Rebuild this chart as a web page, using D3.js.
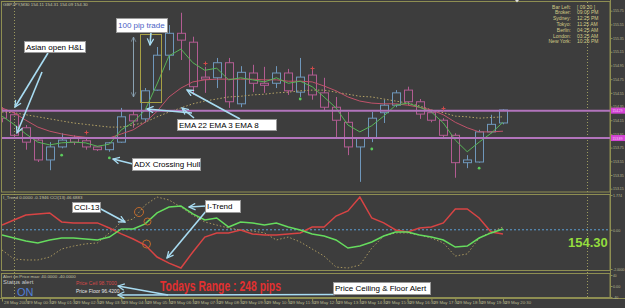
<!DOCTYPE html>
<html>
<head>
<meta charset="utf-8">
<script src="https://cdn.jsdelivr.net/npm/d3@7"></script>
<style>
  body { margin: 0; background: #3d3d3d; }
  svg { display: block; }
  text { font-family: "Liberation Sans", Arial, sans-serif; }
</style>
</head>
<body>
<svg id="chart" width="625" height="308"></svg>
<script>
// GBPJPY M30, 28 May 23:30 .. 29 May 20:30
var barOpen = [154.30, 154.23, 154.04, 153.86, 153.57, 153.76, 153.89, 153.85, 153.76, 153.72,
  153.83, 154.23, 154.17, 154.59, 155.10, 155.42, 155.29, 154.78, 154.77, 154.99,
  154.39, 154.84, 154.69, 154.69, 154.84, 154.56, 154.81, 154.55, 154.34, 154.12,
  153.76, 153.89, 154.26, 154.37, 154.59, 154.42, 154.26, 154.15, 153.93, 153.53,
  153.54, 153.98, 154.11];
var barHigh = [154.34, 154.27, 154.08, 153.89, 153.83, 153.96, 153.93, 153.88, 153.77, 153.83,
  154.33, 154.30, 154.62, 155.22, 155.54, 155.72, 155.37, 154.93, 155.06, 155.06,
  154.94, 154.96, 154.93, 154.94, 154.90, 155.06, 154.91, 154.77, 154.49, 154.27,
  153.90, 154.27, 154.45, 154.59, 154.64, 154.46, 154.30, 154.18, 153.96, 153.64,
  154.01, 154.23, 154.31];
var barLow = [154.12, 153.90, 153.72, 153.54, 153.42, 153.74, 153.79, 153.72, 153.70, 153.69,
  153.82, 154.04, 154.12, 154.58, 154.88, 155.03, 154.52, 154.55, 154.62, 154.33,
  154.34, 154.56, 154.55, 154.62, 154.52, 154.49, 154.45, 154.30, 153.89, 153.64,
  153.25, 153.83, 154.11, 154.34, 154.37, 154.17, 154.12, 153.90, 153.31, 153.45,
  153.53, 153.96, 154.09];
var barClose = [154.18, 153.93, 153.83, 153.57, 153.76, 153.86, 153.83, 153.76, 153.72, 153.82,
  154.20, 154.14, 154.58, 155.10, 155.42, 155.32, 154.64, 154.75, 154.99, 154.42,
  154.85, 154.69, 154.66, 154.84, 154.58, 154.78, 154.52, 154.34, 154.15, 153.76,
  153.89, 154.18, 154.37, 154.55, 154.42, 154.24, 154.15, 153.93, 153.53, 153.57,
  153.98, 154.09, 154.30];

var ema3 = [154.21, 154.09, 153.95, 153.83, 153.79, 153.82, 153.83, 153.82, 153.77, 153.80,
  154.01, 154.12, 154.30, 154.68, 155.09, 155.19, 154.99, 154.88, 154.91, 154.74,
  154.77, 154.74, 154.71, 154.77, 154.69, 154.72, 154.64, 154.49, 154.33, 154.08,
  153.98, 154.07, 154.21, 154.37, 154.40, 154.34, 154.27, 154.11, 153.86, 153.69,
  153.83, 153.96, 154.12];
var ema8 = [154.33, 154.26, 154.15, 154.05, 153.99, 153.95, 153.92, 153.90, 153.89, 153.89,
  153.95, 154.01, 154.12, 154.28, 154.49, 154.62, 154.71, 154.74, 154.75, 154.75,
  154.75, 154.75, 154.74, 154.74, 154.72, 154.72, 154.71, 154.65, 154.58, 154.49,
  154.43, 154.40, 154.39, 154.39, 154.37, 154.34, 154.30, 154.23, 154.12, 154.04,
  153.98, 153.98, 153.99];
var ema22 = [154.27, 154.26, 154.23, 154.20, 154.17, 154.14, 154.11, 154.09, 154.07, 154.05,
  154.05, 154.08, 154.12, 154.20, 154.27, 154.33, 154.39, 154.43, 154.46, 154.49,
  154.50, 154.52, 154.53, 154.55, 154.56, 154.58, 154.59, 154.59, 154.56, 154.53,
  154.50, 154.49, 154.46, 154.43, 154.40, 154.36, 154.30, 154.26, 154.21, 154.20,
  154.18, 154.19, 154.20];

var asianLevels = [154.29, 153.89];
var adxDots = [[5, 153.64], [9, 153.60], [25, 154.46], [31, 153.73], [40, 153.45]];
var hullCrosses = [[7, 153.98], [17, 154.99], [26, 154.91], [37, 154.33]];

var iTrendRed = [0.24, 0.50, 0.75, 0.81, 0.86, 0.40, 0.35, 0.35, 0.35, 0.09,
  -0.21, -0.47, -0.78, -1.39, -1.70, -1.95, -1.13, -0.37, -0.16, -0.16,
  -0.01, -0.21, -0.27, -0.27, -0.21, -0.16, 0.14, 0.14, 0.70, 0.96,
  1.67, 0.60, 0.35, -0.01, -0.11, 0.09, 0.14, 0.35, 1.06, 1.06,
  0.60, -0.11, -0.21];
var iTrendGreen = [-0.27, -0.42, -0.57, -0.67, -0.52, -0.42, -0.42, -0.47, -0.52, -0.37,
  0.04, 0.04, 0.30, 0.86, 1.16, 1.21, 0.81, 0.50, 0.60, 0.14,
  0.40, 0.35, 0.24, 0.35, 0.14, -0.01, -0.21, -0.32, -0.52, -0.93,
  -0.83, -0.62, -0.32, -0.11, -0.11, -0.27, -0.37, -0.52, -0.88, -0.83,
  -0.42, -0.16, 0.04];
var cci13 = [-1.03, -1.49, -1.54, -1.54, -1.39, -0.98, -0.83, -0.72, -0.67, -0.16,
  0.40, 0.55, 1.26, 1.67, 1.52, 1.16, 0.75, 0.40, 0.24, 0.09,
  -0.01, -0.06, -0.16, -0.52, -0.37, -0.62, -0.98, -1.34, -1.90, -1.95,
  -1.80, -0.93, -0.32, -0.16, -0.16, -0.27, -0.42, -0.67, -1.34, -1.23,
  -0.42, -0.11, 0.14];

var priceTicks = [155.75, 155.55, 155.35, 155.15, 154.95, 154.75, 154.55, 154.35,
  154.15, 153.95, 153.75, 153.55, 153.35, 153.15];
var indTicks = [1.774, 0, -2];
var indTickLabels = ['1.774', '0.00', '-2.0000'];
var alertTicks = [40, 0, -40];
var alertTickLabels = ['40', '0.00', '-40'];
var timeLabels = ['28 May 2009', '29 May 00:30', '29 May 01:30', '29 May 02:30', '29 May 03:30',
  '29 May 04:30', '29 May 05:30', '29 May 06:30', '29 May 07:30', '29 May 08:30', '29 May 09:30',
  '29 May 10:30', '29 May 11:30', '29 May 12:30', '29 May 13:30', '29 May 14:30', '29 May 15:30',
  '29 May 16:30', '29 May 17:30', '29 May 18:30', '29 May 19:30', '29 May 20:30'];
var clockNames = ['Bar Left:', 'Broker:', 'Sydney:', 'Tokyo:', 'Berlin:', 'London:', 'New York:'];
var clockTimes = ['[ 09:30 ]', '09:00 PM', '12:25 PM', '11:25 AM', '04:25 AM', '03:25 AM', '10:25 PM'];

var olive = '#8e8e52';
var axisText = '#b8b890';
var bull = '#6f97bb';
var bear = '#b25c92';

var svg = d3.select('#chart');
var x = d3.scaleLinear().domain([0, 42]).range([2, 503]);
var yPrice = d3.scaleLinear().domain([153.15, 155.75]).range([188.7, 10.7]);
var yInd = d3.scaleLinear().domain([-2, 1.774]).range([269, 195]);
var yAlert = d3.scaleLinear().domain([-40, 40]).range([297, 275]);

function px(v) { return Math.round(v) + 0.5; }

svg.append('rect').attr('width', 625).attr('height', 308).attr('fill', '#3d3d3d');

var defs = svg.append('defs');
defs.append('clipPath').attr('id', 'mainClip').append('rect')
  .attr('x', 2).attr('y', 2).attr('width', 608).attr('height', 189);
defs.append('clipPath').attr('id', 'indClip').append('rect')
  .attr('x', 2).attr('y', 195).attr('width', 608).attr('height', 75);
defs.append('marker').attr('id', 'head').attr('viewBox', '0 0 10 10')
  .attr('refX', 9).attr('refY', 5).attr('markerWidth', 5).attr('markerHeight', 5)
  .attr('orient', 'auto-start-reverse')
  .append('path').attr('d', 'M1,1L9,5L1,9').attr('fill', 'none')
  .attr('stroke', '#a8dcf2').attr('stroke-width', 1.6);
defs.append('marker').attr('id', 'headGrey').attr('viewBox', '0 0 10 10')
  .attr('refX', 9).attr('refY', 5).attr('markerWidth', 6).attr('markerHeight', 6)
  .attr('orient', 'auto-start-reverse')
  .append('path').attr('d', 'M1,1L9,5L1,9').attr('fill', 'none')
  .attr('stroke', '#8aa2b2').attr('stroke-width', 1.2);

// panel frames
[[1.5, 1.5, 608.5, 190.5], [1.5, 194.5, 608.5, 76], [1.5, 273.5, 608.5, 24]].forEach(function (r) {
  svg.append('rect').attr('x', r[0]).attr('y', r[1]).attr('width', r[2]).attr('height', r[3])
    .attr('fill', 'none').attr('stroke', olive);
});
svg.append('line').attr('x1', 0).attr('x2', 625).attr('y1', 298.5).attr('y2', 298.5).attr('stroke', olive);

// period separators
[1, 49].forEach(function (i) {
  svg.append('line').attr('x1', px(x(i))).attr('x2', px(x(i))).attr('y1', 2).attr('y2', 298)
    .attr('stroke', '#9c9a5e').attr('stroke-dasharray', '1,2');
});

// ---- main price panel
var main = svg.append('g').attr('clip-path', 'url(#mainClip)');

var bars = d3.range(barOpen.length).map(function (i) {
  return { i: i, o: barOpen[i], h: barHigh[i], l: barLow[i], c: barClose[i] };
});

var candle = main.selectAll('.candle').data(bars).enter().append('g')
  .attr('class', 'candle')
  .attr('stroke', function (d) { return d.c >= d.o ? bull : bear; })
  .attr('fill', 'none');
candle.append('line')
  .attr('x1', function (d) { return px(x(d.i)); })
  .attr('x2', function (d) { return px(x(d.i)); })
  .attr('y1', function (d) { return yPrice(d.h); })
  .attr('y2', function (d) { return yPrice(Math.max(d.o, d.c)); });
candle.append('line')
  .attr('x1', function (d) { return px(x(d.i)); })
  .attr('x2', function (d) { return px(x(d.i)); })
  .attr('y1', function (d) { return yPrice(Math.min(d.o, d.c)); })
  .attr('y2', function (d) { return yPrice(d.l); });
candle.append('rect')
  .attr('x', function (d) { return px(x(d.i)) - 4; })
  .attr('width', 8)
  .attr('y', function (d) { return yPrice(Math.max(d.o, d.c)); })
  .attr('height', function (d) { return Math.max(1, yPrice(Math.min(d.o, d.c)) - yPrice(Math.max(d.o, d.c))); });

var priceLine = d3.line()
  .x(function (d, i) { return x(i); })
  .y(function (d) { return yPrice(d); });
main.append('path').datum(ema22).attr('d', priceLine).attr('fill', 'none')
  .attr('stroke', '#b6a466').attr('stroke-dasharray', '1.5,2');
main.append('path').datum(ema8).attr('d', priceLine).attr('fill', 'none')
  .attr('stroke', '#c0526a');
main.append('path').datum(ema3).attr('d', priceLine).attr('fill', 'none')
  .attr('stroke', '#58b458');

main.selectAll('.level').data(asianLevels).enter().append('line')
  .attr('x1', 2).attr('x2', 610)
  .attr('y1', function (d) { return yPrice(d); })
  .attr('y2', function (d) { return yPrice(d); })
  .attr('stroke', '#b274bc').attr('stroke-width', 2);

main.selectAll('.adx').data(adxDots).enter().append('circle')
  .attr('cx', function (d) { return x(d[0]); })
  .attr('cy', function (d) { return yPrice(d[1]); })
  .attr('r', 1.4).attr('fill', '#5ccc5c');

main.selectAll('.hull').data(hullCrosses).enter().append('path')
  .attr('d', function (d) {
    var cx = px(x(d[0])), cy = Math.round(yPrice(d[1])) + 0.5;
    return 'M' + (cx - 2) + ',' + cy + 'H' + (cx + 2) + 'M' + cx + ',' + (cy - 2) + 'V' + (cy + 2);
  })
  .attr('stroke', '#d04a4a');

// price axis
var pAxis = svg.append('g').attr('transform', 'translate(610.5,0)')
  .call(d3.axisRight(yPrice).tickValues(priceTicks).tickSize(2).tickFormat(d3.format('.2f')));
svg.append('line').attr('x1', 610.5).attr('x2', 610.5).attr('y1', 0).attr('y2', 298).attr('stroke', olive);

svg.selectAll('.lvlTag').data(asianLevels).enter().append('rect')
  .attr('x', 611).attr('width', 14)
  .attr('y', function (d) { return yPrice(d) - 3; }).attr('height', 6)
  .attr('fill', '#d444d4');
svg.selectAll('.lvlText').data(asianLevels).enter().append('text')
  .attr('x', 612.5).attr('y', function (d) { return yPrice(d) + 1.5; })
  .attr('font-size', 4).attr('fill', '#f4d0f4')
  .attr('textLength', 10).attr('lengthAdjust', 'spacingAndGlyphs')
  .text(function (d) { return d.toFixed(2); });

// ---- indicator panel (I-Trend, CCI)
var ind = svg.append('g').attr('clip-path', 'url(#indClip)');
ind.append('line').attr('x1', 2).attr('x2', 610)
  .attr('y1', yInd(0)).attr('y2', yInd(0))
  .attr('stroke', '#5d9fd6').attr('stroke-dasharray', '2,2');

var indLine = d3.line()
  .x(function (d, i) { return x(i); })
  .y(function (d) { return yInd(d); });
ind.append('path').datum(cci13).attr('d', indLine).attr('fill', 'none')
  .attr('stroke', '#a8965e').attr('stroke-dasharray', '1.5,2');
ind.append('path').datum(iTrendRed).attr('d', indLine).attr('fill', 'none')
  .attr('stroke', '#d84444').attr('stroke-width', 1.5);
ind.append('path').datum(iTrendGreen).attr('d', indLine).attr('fill', 'none')
  .attr('stroke', '#66dc5e').attr('stroke-width', 1.5);

var iAxis = svg.append('g').attr('transform', 'translate(610.5,0)')
  .call(d3.axisRight(yInd).tickValues(indTicks).tickSize(2)
    .tickFormat(function (d, k) { return indTickLabels[k]; }));
var aAxis = svg.append('g').attr('transform', 'translate(610.5,0)')
  .call(d3.axisRight(yAlert).tickValues(alertTicks).tickSize(2)
    .tickFormat(function (d, k) { return alertTickLabels[k]; }));

// time axis
var tAxis = svg.append('g').attr('transform', 'translate(0,298.5)')
  .call(d3.axisBottom(x).tickValues(d3.range(0, 43, 2)).tickSize(3)
    .tickFormat(function (d, k) { return timeLabels[k]; }));
tAxis.selectAll('text').attr('text-anchor', 'start').attr('x', 1.5).attr('y', 2.8);

[pAxis, iAxis, aAxis, tAxis].forEach(function (g) {
  g.select('.domain').remove();
  g.selectAll('line').attr('stroke', olive);
  g.selectAll('text').attr('fill', axisText).attr('font-size', 4.3)
    .attr('font-family', '"Liberation Sans", Arial, sans-serif');
});
// keep the right-hand labels inside the 625px window
[pAxis, iAxis, aAxis].forEach(function (g) {
  g.selectAll('text').attr('x', 2.5).attr('font-size', 3.8)
    .each(function () {
      var n = d3.select(this).text().length;
      d3.select(this).attr('textLength', Math.min(11.5, n * 1.8)).attr('lengthAdjust', 'spacingAndGlyphs');
    });
});

// header texts
svg.append('text').attr('x', 3).attr('y', 6).attr('font-size', 4.4).attr('fill', '#c4c4a4')
  .text('GBPJPY,M30  154.11 154.31 154.09 154.30');
svg.append('text').attr('x', 3).attr('y', 199).attr('font-size', 4.4).attr('fill', '#c4c4a4')
  .text('I_Trend 0.0000 -0.1946  CCI(13) 46.6883');
svg.append('text').attr('x', 3).attr('y', 278).attr('font-size', 4.4).attr('fill', '#c4c4a4')
  .text('Alert on Price max: 40.0000 -40.0000');
svg.append('path').attr('d', 'M515,0L519,0L517,2.5Z').attr('fill', '#e0e0e0');

var clock = svg.append('g').attr('font-size', 5).attr('fill', '#d2ca86');
clock.selectAll('.cn').data(clockNames).enter().append('text')
  .attr('x', 571).attr('y', function (d, k) { return 8.6 + k * 5.78; })
  .attr('text-anchor', 'end').text(function (d) { return d; });
clock.selectAll('.ct').data(clockTimes).enter().append('text')
  .attr('x', 577).attr('y', function (d, k) { return 8.6 + k * 5.78; })
  .text(function (d) { return d; });

// alert panel texts
svg.append('text').attr('x', 3).attr('y', 284).attr('font-size', 6).attr('fill', '#c8c8c8').text('Status alert');
svg.append('text').attr('x', 17).attr('y', 295.5).attr('font-size', 11).attr('fill', '#4f7fd8').text('ON');
svg.append('text').attr('x', 76).attr('y', 284.5).attr('font-size', 5).attr('fill', '#d44848').text('Price Ceil   98.7000');
svg.append('text').attr('x', 76).attr('y', 292.5).attr('font-size', 5).attr('fill', '#e4e4e4').text('Price Floor  96.4200');
svg.append('text').attr('x', 160).attr('y', 291).attr('font-size', 15).attr('font-weight', 'bold')
  .attr('font-family', '"Liberation Sans Narrow", "DejaVu Sans Condensed", sans-serif')
  .attr('textLength', 121).attr('lengthAdjust', 'spacingAndGlyphs')
  .attr('fill', '#e23030').text('Todays Range : 248 pips');
svg.append('text').attr('x', 568).attr('y', 246.5).attr('font-size', 13).attr('font-weight', 'bold')
  .attr('fill', '#94dc3e').text(barClose[barClose.length - 1].toFixed(2));

// ---- hand-drawn annotations
var ann = svg.append('g');
ann.append('rect').attr('x', 140.5).attr('y', 34.5).attr('width', 21).attr('height', 68)
  .attr('fill', 'none').attr('stroke', '#a8a044');
ann.append('line').attr('x1', 133.5).attr('x2', 133.5).attr('y1', 37).attr('y2', 97)
  .attr('stroke', '#8aa2b2').attr('marker-start', 'url(#headGrey)').attr('marker-end', 'url(#headGrey)');
ann.selectAll('.ring').data([[139, 212, 4.5], [147.5, 221.5, 3.5], [146.5, 244, 4]]).enter().append('circle')
  .attr('cx', function (d) { return d[0]; }).attr('cy', function (d) { return d[1]; })
  .attr('r', function (d) { return d[2]; })
  .attr('fill', 'none').attr('stroke', '#c06a2c');

var pointers = [
  [48, 53, 15, 107], [42, 72, 17, 133],
  [151, 32, 150, 45],
  [240, 119, 187, 90], [192, 113, 147, 109], [194, 118, 182, 108],
  [133, 164, 113, 159],
  [99, 208, 125, 222],
  [206, 206, 189, 207], [207, 210, 167, 258],
  [168, 295, 118, 286], [335, 294.5, 118, 295]
];
ann.selectAll('.ptr').data(pointers).enter().append('line')
  .attr('x1', function (d) { return d[0]; }).attr('y1', function (d) { return d[1]; })
  .attr('x2', function (d) { return d[2]; }).attr('y2', function (d) { return d[3]; })
  .attr('stroke', '#a8dcf2').attr('stroke-width', 1.6).attr('marker-end', 'url(#head)');

var notes = [
  { text: 'Asian open H&L', x: 24, y: 41, w: 61, h: 11, color: '#000' },
  { text: '100 pip trade', x: 116, y: 18, w: 51, h: 14, color: '#4a62c4' },
  { text: 'EMA 22 EMA 3 EMA 8', x: 177, y: 119, w: 99, h: 11, color: '#000' },
  { text: 'ADX Crossing Hull', x: 132, y: 158, w: 68, h: 12, color: '#000' },
  { text: 'CCI-13', x: 72, y: 202, w: 28, h: 10, color: '#000' },
  { text: 'I-Trend', x: 205, y: 200, w: 35, h: 12, color: '#000' },
  { text: 'Price Ceiling & Floor Alert', x: 333, y: 282, w: 97, h: 12, color: '#000' }
];
var note = ann.selectAll('.note').data(notes).enter().append('g');
note.append('rect')
  .attr('x', function (d) { return d.x + 0.5; }).attr('y', function (d) { return d.y + 0.5; })
  .attr('width', function (d) { return d.w; }).attr('height', function (d) { return d.h; })
  .attr('fill', '#fff').attr('stroke', '#9a9a9a');
note.append('text')
  .attr('x', function (d) { return d.x + 2; })
  .attr('y', function (d) { return d.y + d.h / 2 + 3.3; })
  .attr('font-size', 8).attr('fill', function (d) { return d.color; })
  .text(function (d) { return d.text; });
</script>
</body>
</html>
